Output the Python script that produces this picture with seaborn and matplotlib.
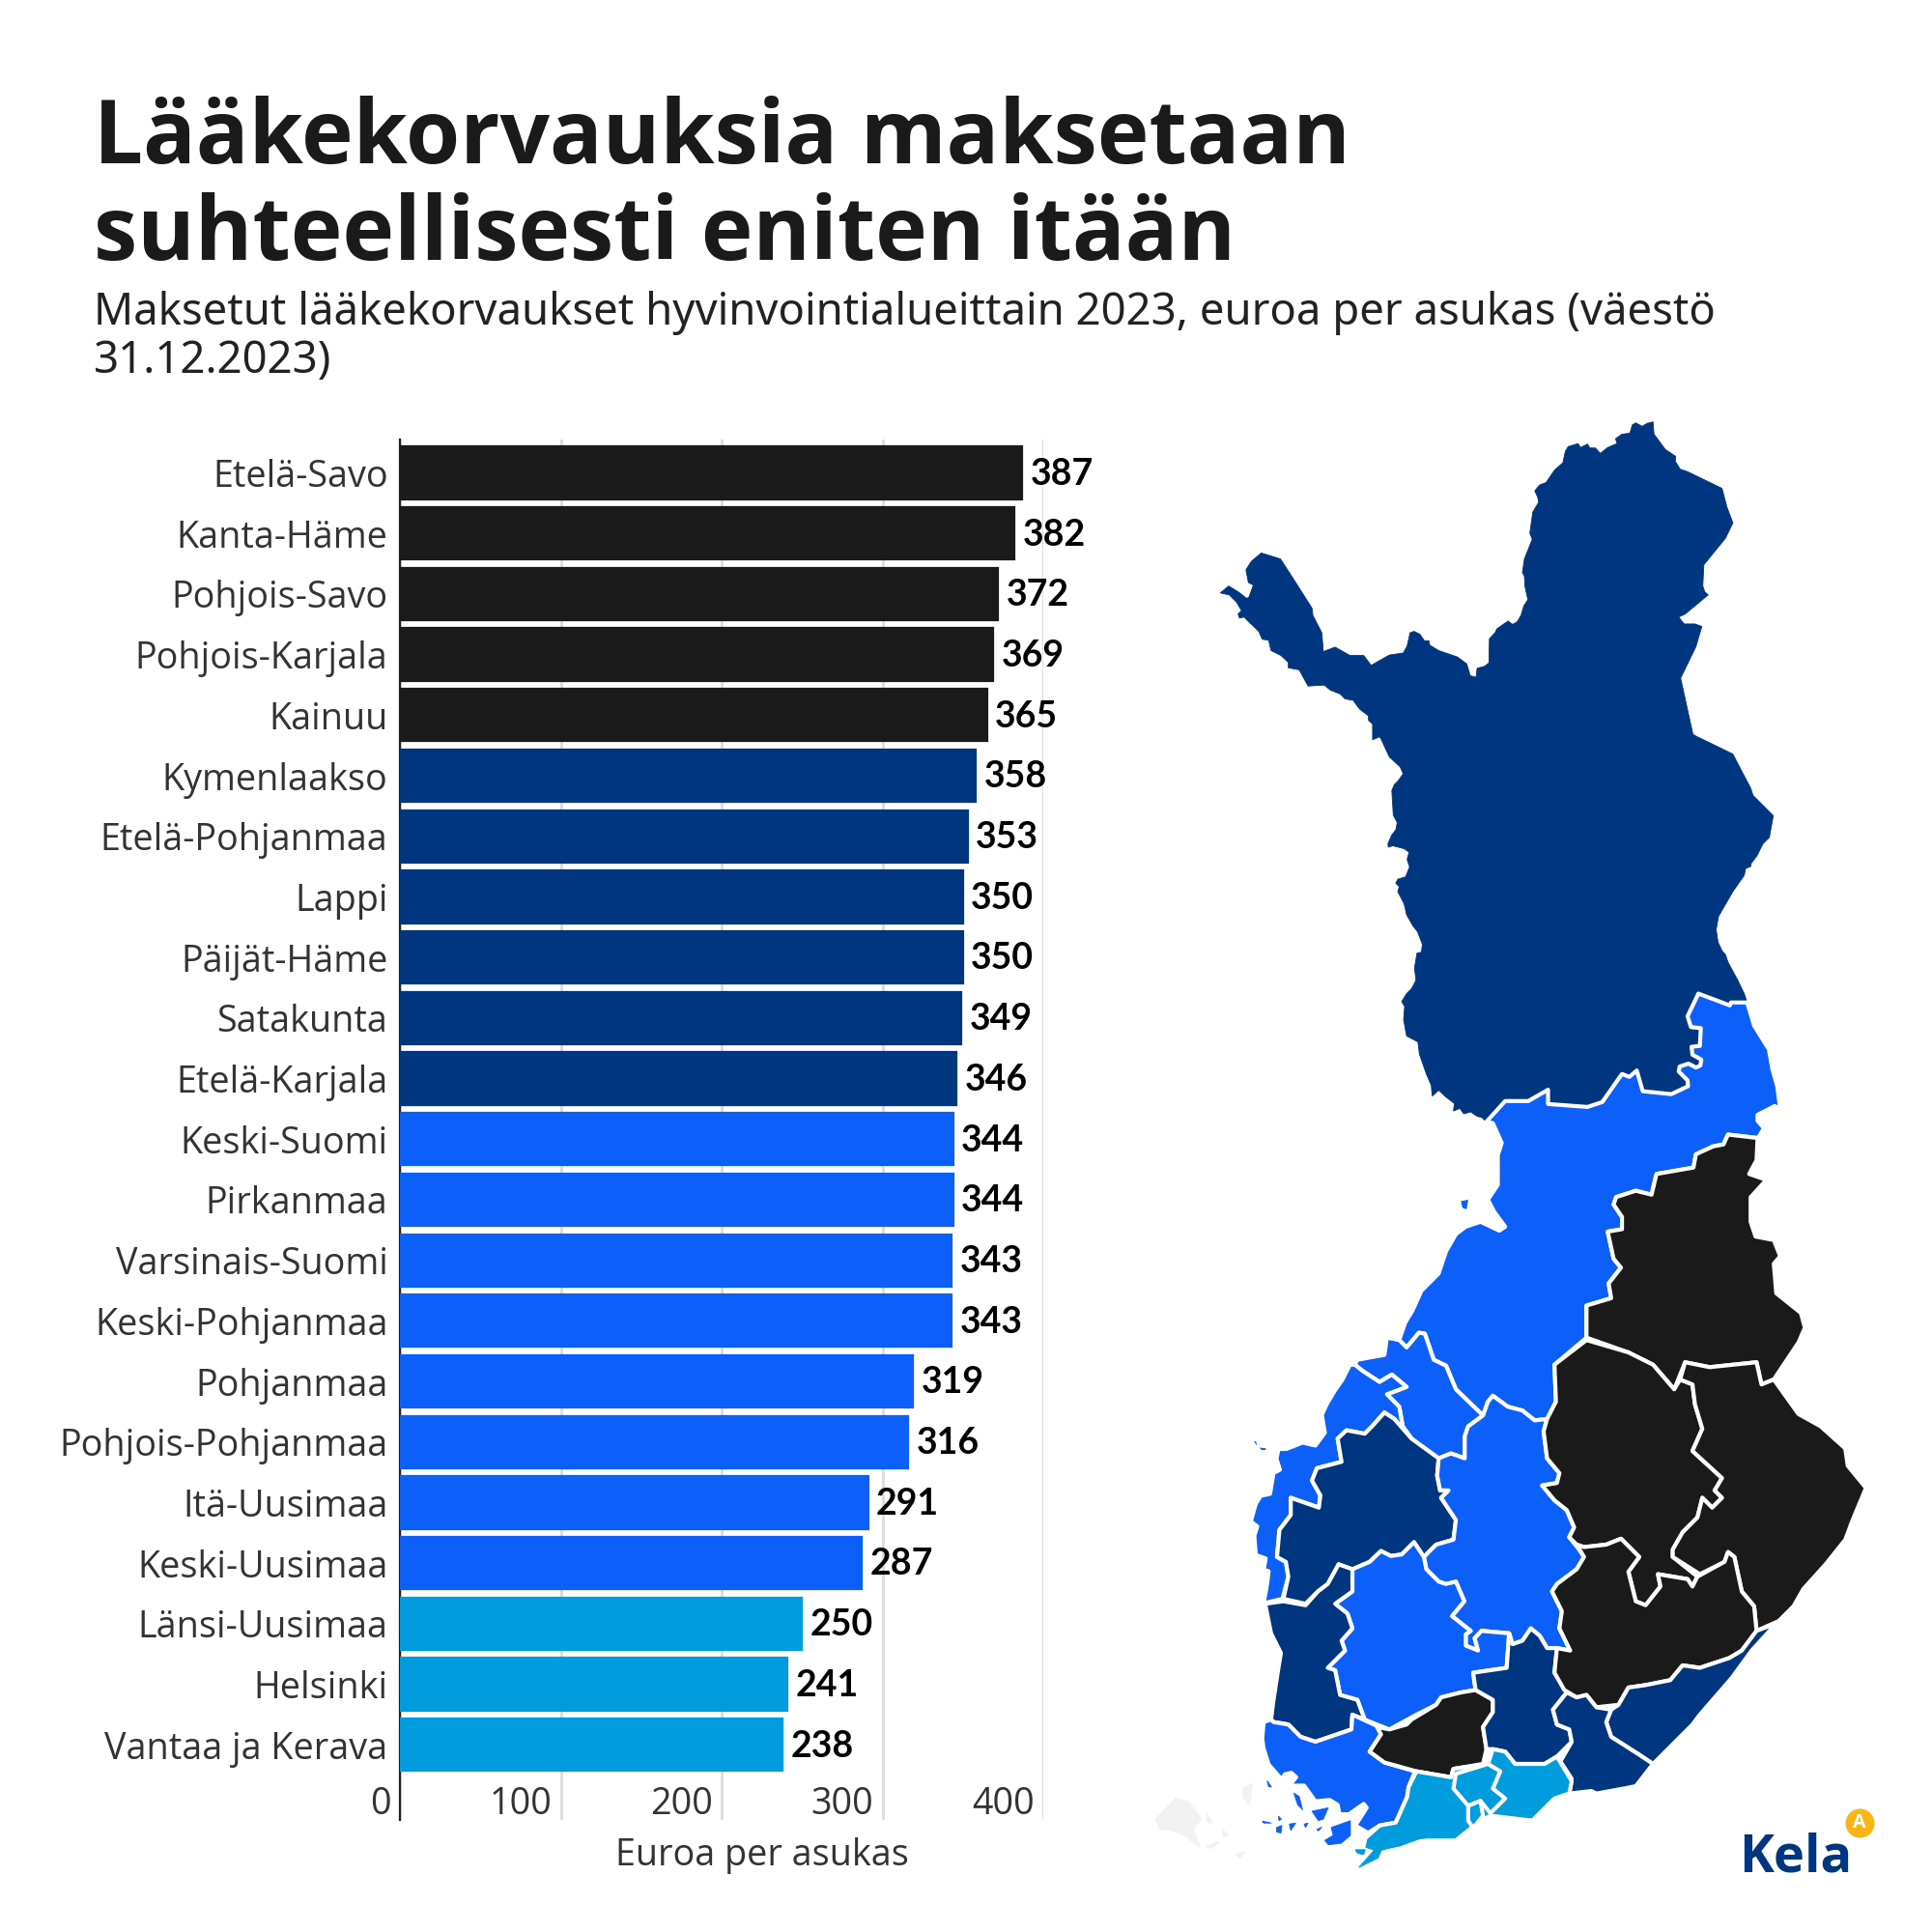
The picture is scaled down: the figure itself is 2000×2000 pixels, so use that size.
import matplotlib
matplotlib.use("Agg")
import matplotlib.pyplot as plt
from matplotlib.transforms import ScaledTranslation
import pandas as pd
import seaborn as sns

regions = [
    "Etelä-Savo", "Kanta-Häme", "Pohjois-Savo", "Pohjois-Karjala", "Kainuu",
    "Kymenlaakso", "Etelä-Pohjanmaa", "Lappi", "Päijät-Häme", "Satakunta", "Etelä-Karjala",
    "Keski-Suomi", "Pirkanmaa", "Varsinais-Suomi", "Keski-Pohjanmaa", "Pohjanmaa",
    "Pohjois-Pohjanmaa", "Itä-Uusimaa", "Keski-Uusimaa",
    "Länsi-Uusimaa", "Helsinki", "Vantaa ja Kerava",
]
values = [387, 382, 372, 369, 365, 358, 353, 350, 350, 349, 346,
          344, 344, 343, 343, 319, 316, 291, 287, 250, 241, 238]
groups = ["a"] * 5 + ["b"] * 6 + ["c"] * 8 + ["d"] * 3
palette = {"a": "#1a1a1a", "b": "#003580", "c": "#0d5ffa", "d": "#009cde"}
x_ticks = [0, 100, 200, 300, 400]

# map outlines, in crop units (y of the southern shapes is shifted below)
lappi = [(1100,72),(1102,97),(1125,128),(1146,142),(1145,152),(1155,168),(1170,173),(1240,207),(1250,245),(1262,277),(1247,308),(1203,362),(1201,405),(1205,417),(1212,423),(1165,462),(1152,468),(1163,482),(1185,482),(1199,487),(1187,528),(1156,592),(1181,706),(1188,710),(1262,746),(1277,775),(1298,815),(1303,830),(1344,871),(1336,915),(1323,928),(1311,952),(1299,968),(1298,974),(1288,978),(1285,992),(1262,1025),(1233,1075),(1228,1102),(1232,1128),(1240,1145),(1247,1153),(1252,1168),(1272,1205),(1285,1232),(1291,1250),(1258,1250),(1256,1256),(1192,1232),(1170,1278),(1177,1300),(1197,1302),(1195,1338),(1178,1340),(1180,1356),(1198,1366),(1196,1378),(1187,1382),(1172,1374),(1154,1380),(1152,1390),(1170,1408),(1171,1420),(1137,1436),(1079,1430),(1067,1388),(1052,1401),(1037,1395),(997,1452),(967,1462),(887,1456),(887,1427),(847,1450),(800,1450),(762,1492),(752,1483),(743,1481),(730,1472),(716,1476),(708,1465),(695,1470),(697,1455),(680,1442),(665,1428),(652,1440),(650,1418),(640,1395),(626,1355),(623,1330),(600,1318),(594,1285),(596,1258),(590,1248),(600,1232),(610,1222),(619,1205),(616,1180),(621,1150),(630,1148),(632,1132),(622,1106),(613,1095),(600,1072),(595,1050),(582,1025),(585,1015),(578,1008),(582,1000),(598,995),(606,975),(601,960),(605,945),(595,938),(572,932),(563,935),(562,928),(570,910),(578,900),(581,885),(573,870),(570,820),(575,808),(583,800),(593,786),(587,772),(565,752),(548,715),(545,711),(531,717),(531,685),(523,678),(522,668),(505,655),(495,642),(492,637),(475,634),(465,624),(445,616),(433,606),(400,608),(382,575),(360,571),(360,560),(345,546),(325,536),(320,515),(307,513),(300,497),(270,468),(261,470),(258,462),(265,455),(255,438),(240,423),(222,419),(239,405),(260,418),(275,430),(280,428),(289,403),(279,398),(274,372),(285,355),(305,338),(344,350),(368,387),(408,450),(410,465),(428,500),(431,538),(455,529),(485,546),(513,546),(528,566),(565,545),(593,541),(601,527),(607,500),(615,497),(627,503),(636,516),(645,516),(647,525),(665,536),(703,549),(722,563),(729,587),(741,590),(743,572),(758,568),(767,561),(768,512),(780,499),(783,492),(806,476),(815,483),(824,478),(832,465),(838,445),(846,433),(840,405),(839,385),(835,378),(839,350),(855,310),(850,298),(856,255),(868,235),(866,225),(860,212),(870,200),(883,195),(900,170),(917,155),(922,132),(928,122),(948,116),(953,124),(967,117),(972,125),(983,125),(993,136),(1008,124),(1027,116),(1024,106),(1037,97),(1053,95),(1058,78),(1065,74),(1078,81),(1088,75)]
pohjois_pohjanmaa = [(762,22),(800,-20),(847,-20),(887,-43),(887,-14),(967,-8),(997,-18),(1037,-75),(1052,-69),(1067,-82),(1079,-40),(1137,-34),(1171,-50),(1170,-62),(1152,-80),(1154,-90),(1172,-96),(1187,-88),(1196,-92),(1198,-104),(1180,-114),(1178,-130),(1195,-132),(1197,-168),(1177,-170),(1170,-192),(1192,-238),(1256,-214),(1258,-220),(1291,-220),(1305,-173),(1335,-125),(1342,-85),(1352,-50),(1358,-3),(1347,-10),(1312,8),(1312,20),(1325,35),(1316,50),(1312,55),(1252,48),(1243,68),(1222,72),(1187,88),(1182,115),(1107,128),(1097,170),(1065,162),(1025,175),(1020,190),(1037,215),(1037,240),(1008,245),(1020,300),(1035,318),(1010,350),(1015,380),(965,395),(965,460),(900,515),(903,590),(885,625),(860,628),(835,608),(805,600),(775,578),(765,590),(755,618),(700,565),(680,517),(655,505),(637,452),(625,450),(600,480),(585,465),(597,430),(612,405),(630,365),(665,330),(680,285),(700,250),(720,235),(750,225),(788,243),(800,235),(778,205),(765,180),(785,150),(785,90),(793,65),(775,25)]
pp_island = [(705,180),(730,175),(725,205),(710,200)]
keski_pohjanmaa = [(585,465),(600,480),(625,450),(637,452),(655,505),(680,517),(700,565),(755,618),(725,640),(718,660),(718,705),(690,695),(665,705),(610,665),(592,640),(585,600),(560,575),(600,560),(570,535),(545,550),(510,527),(495,515),(500,505),(555,495),(560,460)]
pohjanmaa = [(495,515),(510,527),(545,550),(570,535),(600,560),(560,575),(585,600),(592,640),(610,665),(655,705),(610,665),(575,625),(555,612),(530,640),(515,655),(478,648),(460,665),(468,712),(418,725),(408,750),(425,780),(422,805),(365,785),(365,820),(342,850),(337,905),(355,915),(360,945),(348,990),(310,999),(317,960),(320,934),(310,931),(314,908),(294,901),(291,862),(297,843),(284,833),(294,797),(304,781),(323,777),(330,735),(343,728),(336,706),(340,686),(356,686),(389,673),(415,679),(434,653),(428,617),(438,595),(454,568),(470,545),(485,515)]
pohjanmaa_island = [(284,668),(297,665),(301,679),(320,681),(317,692),(304,692),(291,679)]
etela_pohjanmaa = [(555,612),(575,625),(610,665),(665,705),(662,740),(668,770),(685,770),(670,785),(700,830),(695,870),(660,880),(635,905),(615,875),(590,900),(568,903),(548,893),(525,915),(490,930),(462,920),(440,960),(420,975),(395,1000),(350,990),(360,945),(355,915),(337,905),(342,850),(365,820),(365,785),(422,805),(425,780),(408,750),(418,725),(468,712),(460,665),(478,648),(515,655),(530,640)]
keski_suomi = [(775,578),(805,600),(835,608),(860,628),(885,625),(878,650),(885,705),(910,735),(905,755),(875,760),(900,790),(925,810),(940,845),(930,865),(950,890),(960,905),(945,930),(905,960),(895,975),(915,1015),(910,1050),(932,1095),(905,1090),(885,1090),(870,1065),(852,1050),(835,1075),(815,1082),(808,1060),(752,1055),(738,1070),(745,1095),(720,1085),(720,1062),(730,1055),(692,1025),(717,995),(700,955),(680,960),(665,955),(640,930),(635,905),(660,880),(695,870),(700,830),(670,785),(685,770),(668,770),(662,740),(665,705),(690,695),(718,705),(718,660),(725,640),(755,618),(765,590)]
pirkanmaa = [(490,930),(525,915),(548,893),(568,903),(590,900),(615,875),(635,905),(640,930),(665,955),(680,960),(700,955),(717,995),(692,1025),(730,1055),(720,1062),(720,1085),(745,1095),(738,1070),(752,1055),(808,1060),(803,1130),(735,1140),(740,1175),(710,1180),(670,1190),(660,1205),(620,1225),(565,1255),(515,1235),(500,1195),(465,1185),(455,1135),(440,1130),(475,1095),(468,1075),(490,1050),(480,1020),(455,1000),(490,975)]
satakunta = [(313,1000),(350,995),(395,1003),(420,975),(440,960),(462,920),(490,930),(490,975),(455,1000),(480,1020),(490,1050),(468,1075),(475,1095),(440,1130),(455,1135),(465,1185),(500,1195),(515,1235),(490,1225),(488,1255),(415,1280),(385,1270),(360,1245),(330,1240),(325,1235),(330,1195),(340,1130),(345,1100),(325,1060)]
varsinais_suomi = [(310,1240),(325,1235),(330,1240),(360,1245),(385,1270),(415,1280),(488,1255),(490,1225),(540,1248),(548,1265),(525,1300),(555,1322),(617,1340),(604,1372),(601,1392),(578,1444),(545,1450),(522,1465),(496,1450),(519,1414),(513,1406),(483,1427),(464,1427),(460,1408),(444,1398),(415,1401),(392,1369),(362,1369),(376,1352),(366,1343),(353,1346),(346,1356),(320,1326),(310,1294),(307,1274)]
vs_islands = [
    [(447,1454),(486,1440),(486,1470),(467,1486),(441,1489),(434,1480),(451,1470)],
    [(408,1421),(441,1414),(431,1437),(421,1440)],
    [(371,1384),(382,1391),(389,1418),(379,1408)],
    [(317,1359),(326,1372),(320,1371)],
    [(336,1454),(347,1450),(345,1465),(336,1463)],
    [(362,1447),(375,1445),(365,1460)],
    [(307,1441),(326,1445),(310,1445)],
    [(340,1431),(346,1437),(341,1440)],
    [(392,1447),(400,1445),(395,1454)],
    [(418,1458),(428,1453),(421,1461)],
]
kanta_hame = [(540,1250),(565,1255),(600,1245),(610,1235),(660,1205),(670,1190),(710,1180),(740,1175),(775,1195),(775,1220),(755,1250),(762,1295),(755,1325),(695,1335),(690,1352),(620,1340),(555,1322),(525,1300),(548,1265)]
paijat_hame = [(735,1140),(803,1130),(808,1060),(815,1082),(835,1075),(852,1050),(870,1065),(885,1090),(905,1090),(900,1140),(925,1180),(897,1215),(905,1245),(930,1255),(935,1280),(905,1310),(880,1325),(820,1325),(800,1300),(775,1295),(762,1295),(755,1250),(775,1220),(775,1195),(740,1175)]
kainuu = [(1312,55),(1252,48),(1243,68),(1222,72),(1187,88),(1182,115),(1107,128),(1097,170),(1065,162),(1025,175),(1020,190),(1037,215),(1037,240),(1008,245),(1020,300),(1035,318),(1010,350),(1015,380),(965,395),(965,460),(1050,490),(1100,515),(1143,565),(1165,510),(1215,520),(1310,510),(1320,555),(1345,545),(1375,500),(1395,470),(1408,440),(1400,410),(1350,370),(1345,310),(1358,295),(1345,262),(1308,255),(1298,225),(1298,175),(1330,140),(1295,128),(1310,100)]
pohjois_savo = [(965,465),(1050,490),(1100,515),(1143,565),(1155,545),(1180,555),(1185,595),(1200,645),(1180,690),(1240,745),(1225,770),(1240,785),(1220,805),(1200,785),(1190,825),(1160,855),(1140,890),(1140,905),(1190,945),(1180,965),(1170,950),(1110,940),(1115,965),(1085,1003),(1065,995),(1050,935),(1072,905),(1035,868),(1005,880),(960,885),(945,880),(930,865),(940,845),(925,810),(900,790),(875,760),(905,755),(910,735),(885,705),(878,650),(885,625),(903,590),(900,515)]
pohjois_karjala = [(1165,510),(1215,520),(1310,510),(1320,555),(1345,545),(1395,615),(1440,640),(1490,685),(1495,720),(1532,765),(1505,830),(1490,870),(1450,920),(1405,970),(1385,1005),(1355,1035),(1310,1055),(1305,1005),(1280,975),(1265,905),(1252,895),(1245,915),(1195,940),(1140,905),(1140,890),(1160,855),(1190,825),(1200,785),(1220,805),(1240,785),(1225,770),(1240,745),(1180,690),(1200,645),(1185,595),(1180,555),(1155,545)]
etela_savo = [(945,880),(960,885),(1005,880),(1035,868),(1072,905),(1050,935),(1065,995),(1085,1003),(1115,965),(1110,940),(1170,950),(1180,965),(1190,945),(1245,915),(1252,895),(1265,905),(1280,975),(1305,1005),(1310,1055),(1280,1095),(1255,1110),(1195,1130),(1160,1125),(1135,1155),(1085,1165),(1050,1170),(1030,1205),(985,1210),(965,1185),(945,1190),(920,1175),(900,1140),(905,1090),(932,1095),(910,1050),(915,1015),(895,975),(905,960),(945,930),(960,905)]
etela_karjala = [(1350,1040),(1310,1055),(1280,1095),(1255,1110),(1195,1130),(1160,1125),(1135,1155),(1085,1165),(1050,1170),(1030,1205),(1015,1215),(1005,1240),(1015,1270),(1070,1305),(1100,1325),(1180,1245),(1195,1225),(1260,1150),(1300,1095)]
kymenlaakso = [(925,1180),(945,1190),(965,1185),(985,1210),(1015,1215),(1005,1240),(1015,1270),(1070,1305),(1100,1325),(1065,1370),(1040,1375),(985,1385),(975,1380),(930,1385),(935,1355),(912,1320),(935,1280),(930,1255),(905,1245),(897,1215)]
uusimaa = [(620,1340),(690,1352),(695,1335),(765,1325),(775,1295),(800,1300),(820,1325),(880,1325),(905,1310),(935,1360),(930,1385),(900,1395),(855,1440),(770,1430),(750,1440),(700,1480),(647,1480),(627,1482),(588,1496),(549,1503),(542,1516),(503,1535),(539,1509),(529,1496),(513,1493),(516,1476),(545,1450),(578,1444),(601,1392),(604,1372)]
uusimaa_tail = [(503,1535),(542,1516),(549,1500),(590,1490),(590,1475),(540,1470),(522,1480),(517,1494),(534,1500)]
uusimaa_island = [(496,1499),(516,1499),(513,1509),(500,1506)]
keski_uusimaa = [(700,1345),(765,1325),(790,1340),(775,1375),(800,1395),(770,1425),(750,1400),(725,1410),(695,1375)]
helsinki = [(725,1410),(750,1400),(755,1430),(735,1455),(725,1440)]
ahvenanmaa = [
    [(91,1437),(131,1395),(157,1401),(183,1437),(167,1457),(180,1493),(150,1470),(124,1460),(98,1457)],
    [(193,1493),(219,1483),(206,1496)],
    [(225,1457),(238,1470),(228,1473)],
    [(268,1375),(287,1365),(281,1408),(268,1392)],
    [(255,1509),(271,1503),(261,1516)],
    [(193,1424),(206,1444),(196,1444)],
]

south_shapes = [
    (pohjois_pohjanmaa, "c"), (pp_island, "c"), (keski_pohjanmaa, "c"), (pohjanmaa, "c"), (pohjanmaa_island, "c"),
    (etela_pohjanmaa, "b"), (keski_suomi, "c"), (pirkanmaa, "c"), (satakunta, "b"), (varsinais_suomi, "c"),
    (kanta_hame, "a"), (paijat_hame, "b"),
    (kainuu, "a"), (pohjois_savo, "a"), (pohjois_karjala, "a"), (etela_savo, "a"), (etela_karjala, "b"),
    (kymenlaakso, "b"), (uusimaa, "d"), (keski_uusimaa, "d"), (helsinki, "d"),
]
SOUTH_SHIFT = 1470

sns.set_theme(style="white")
plt.rcParams["font.family"] = ["Open Sans", "DejaVu Sans"]

W = 2000


def px(n):
    return n / W


def fill_south(axes, shape, **kwargs):
    axes.fill(*zip(*[(x, y + SOUTH_SHIFT) for x, y in shape]), **kwargs)


df = pd.DataFrame({"region": regions, "value": values, "group": groups})

fig = plt.figure(figsize=(10, 10), dpi=200)
ax = fig.add_axes([px(414), 1 - px(1884), px(1080 - 414), px(1884 - 455)])

sns.barplot(
    data=df, x="value", y="region", hue="group", palette=palette,
    dodge=False, legend=False, width=0.865, saturation=1, ax=ax, zorder=3,
)
for container in ax.containers:
    for bar in container:
        bar.set_edgecolor(bar.get_facecolor())
        bar.set_linewidth(0.8)
    labs = ax.bar_label(container, fmt="%.0f", padding=3, fontsize=13.5, fontweight="bold",
                        family="Lato", color="black")
    for lab in labs:
        lab.set_va("center_baseline")
        lab.xyann = (3, 0.6)

ax.set_xlim(0, 400)
ax.set_ylim(22.24, -0.55)
ax.set_xticks(x_ticks)
ax.set_xticklabels([str(t) for t in x_ticks], ha="right", fontsize=13.6, color="#333333")
ax.xaxis.grid(True, color="#dcdcdc", linewidth=1)
ax.set_axisbelow(True)
for s in ["top", "right", "bottom"]:
    ax.spines[s].set_visible(False)
ax.spines["left"].set_color("#222222")
ax.spines["left"].set_linewidth(0.8)
ax.set_ylabel("")
ax.set_xlabel("")
ax.tick_params(axis="y", length=0, pad=4.5, labelsize=13.6, labelcolor="#333333")
ax.tick_params(axis="x", length=0, pad=-12.7)
# tick labels sit left of their gridline, above the axis end
shift = ScaledTranslation(-9 / 200, 0, fig.dpi_scale_trans)
for lab in ax.get_xticklabels():
    lab.set_transform(lab.get_transform() + shift)

fig.text(px(789), 1 - px(1921), "Euroa per asukas", ha="center", va="center", fontsize=13.6, color="#333333")

fig.text(px(97), 1 - px(169), "Lääkekorvauksia maksetaan", family="Open Sans", fontweight="bold",
         fontsize=32.65, color="#1a1a1a", va="baseline")
fig.text(px(97), 1 - px(269), "suhteellisesti eniten itään", family="Open Sans", fontweight="bold",
         fontsize=32.65, color="#1a1a1a", va="baseline")
fig.text(px(97), 1 - px(336), "Maksetut lääkekorvaukset hyvinvointialueittain 2023, euroa per asukas (väestö",
         family="Noto Sans", fontsize=16.38, color="#222222", va="baseline")
fig.text(px(97), 1 - px(386), "31.12.2023)", family="Noto Sans", fontsize=16.38, color="#222222", va="baseline")

# map in its own axes, crop units
map_ax = fig.add_axes([px(1150), 0, px(800), px(1600)], zorder=-1)
map_ax.set_xlim(0, 1568)
map_ax.set_ylim(3136, 0)
map_ax.axis("off")

map_ax.fill(*zip(*lappi), facecolor=palette["b"], edgecolor=palette["b"], linewidth=0.3)
for blob in ahvenanmaa:
    fill_south(map_ax, blob, facecolor="#f2f2f2", edgecolor="#f2f2f2", linewidth=0.5)
for shape, grp in south_shapes:
    fill_south(map_ax, shape, facecolor=palette[grp], edgecolor="white", linewidth=1.5, joinstyle="round")
# small islands and the thin coast go on top, the white outlines would eat them
for blob in vs_islands:
    fill_south(map_ax, blob, facecolor=palette["c"], edgecolor=palette["c"], linewidth=0.3)
fill_south(map_ax, uusimaa_island, facecolor=palette["d"], edgecolor=palette["d"], linewidth=0.3)
fill_south(map_ax, uusimaa_tail, facecolor=palette["d"], edgecolor=palette["d"], linewidth=0.3)

# Kela logo
fig.text(px(1800), 1 - px(1937), "Kela", family="Open Sans", fontweight="bold", fontsize=19.5,
         color="#003580", va="baseline")
map_ax.scatter([1519], [1444 + SOUTH_SHIFT], s=117, color="#fbb616", linewidths=0, zorder=5)
map_ax.text(1519, 1444 + SOUTH_SHIFT, "A", ha="center", va="center", fontsize=7, fontweight="bold",
            color="white", zorder=6)

fig.savefig("out.png", dpi=200, facecolor="white")
